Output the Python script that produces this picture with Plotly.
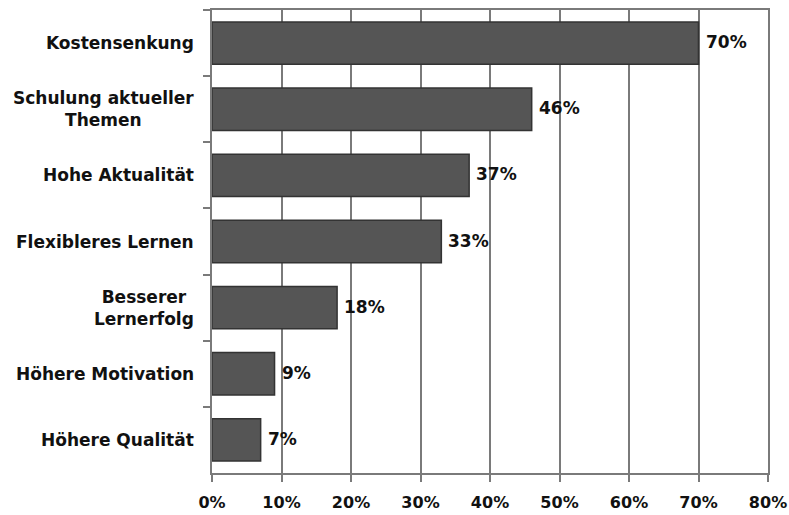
import plotly.graph_objects as go

categories = ["Kostensenkung", "Schulung aktueller<br>Themen", "Hohe Aktualität",
              "Flexibleres Lernen", "Besserer<br>Lernerfolg", "Höhere Motivation",
              "Höhere Qualität"]
values = [70, 46, 37, 33, 18, 9, 7]
x_ticks = [0, 10, 20, 30, 40, 50, 60, 70, 80]
x_tick_labels = ["0%", "10%", "20%", "30%", "40%", "50%", "60%", "70%", "80%"]

FONT = "DejaVu Sans"
GRID = "#7a7a7a"

fig = go.Figure()
fig.add_trace(go.Bar(
    x=values, y=categories, orientation="h",
    marker=dict(color="#555555", line=dict(color="#333333", width=1.5)),
    hoverinfo="skip",
))

annotations = []
for c in categories:
    annotations.append(dict(
        x=0, xref="paper", y=c, yref="y", text="<b>%s</b>" % c,
        showarrow=False, xanchor="right", yanchor="middle", align="center",
        xshift=-16, font=dict(family=FONT, size=17, color="#111111"),
    ))
for c, v in zip(categories, values):
    annotations.append(dict(
        x=v, xref="x", y=c, yref="y", text="<b>%d%%</b>" % v,
        showarrow=False, xanchor="left", yanchor="middle",
        xshift=5, yshift=1, font=dict(family=FONT, size=17, color="#111111"),
    ))

fig.update_layout(
    width=789, height=515,
    margin=dict(l=212, r=21, t=10, b=42, autoexpand=False),
    paper_bgcolor="white", plot_bgcolor="white",
    showlegend=False, bargap=0.36,
    annotations=annotations,
    xaxis=dict(
        range=[0, 80], tickvals=x_ticks, ticktext=["<b>%s</b>" % t for t in x_tick_labels],
        showgrid=True, gridcolor=GRID, gridwidth=2,
        showline=True, linecolor=GRID, linewidth=2, mirror=True,
        ticks="outside", ticklen=7, tickcolor=GRID, tickwidth=2,
        tickfont=dict(family=FONT, size=16, color="#111111"),
        ticklabelstandoff=7, zeroline=False, fixedrange=True, automargin=False,
    ),
    yaxis=dict(
        autorange="reversed", showticklabels=False,
        tickson="boundaries", ticks="outside", ticklen=7, tickcolor=GRID, tickwidth=2,
        showline=True, linecolor=GRID, linewidth=2, mirror=True,
        showgrid=False, fixedrange=True, automargin=False,
    ),
)

fig.write_html("out.html")
